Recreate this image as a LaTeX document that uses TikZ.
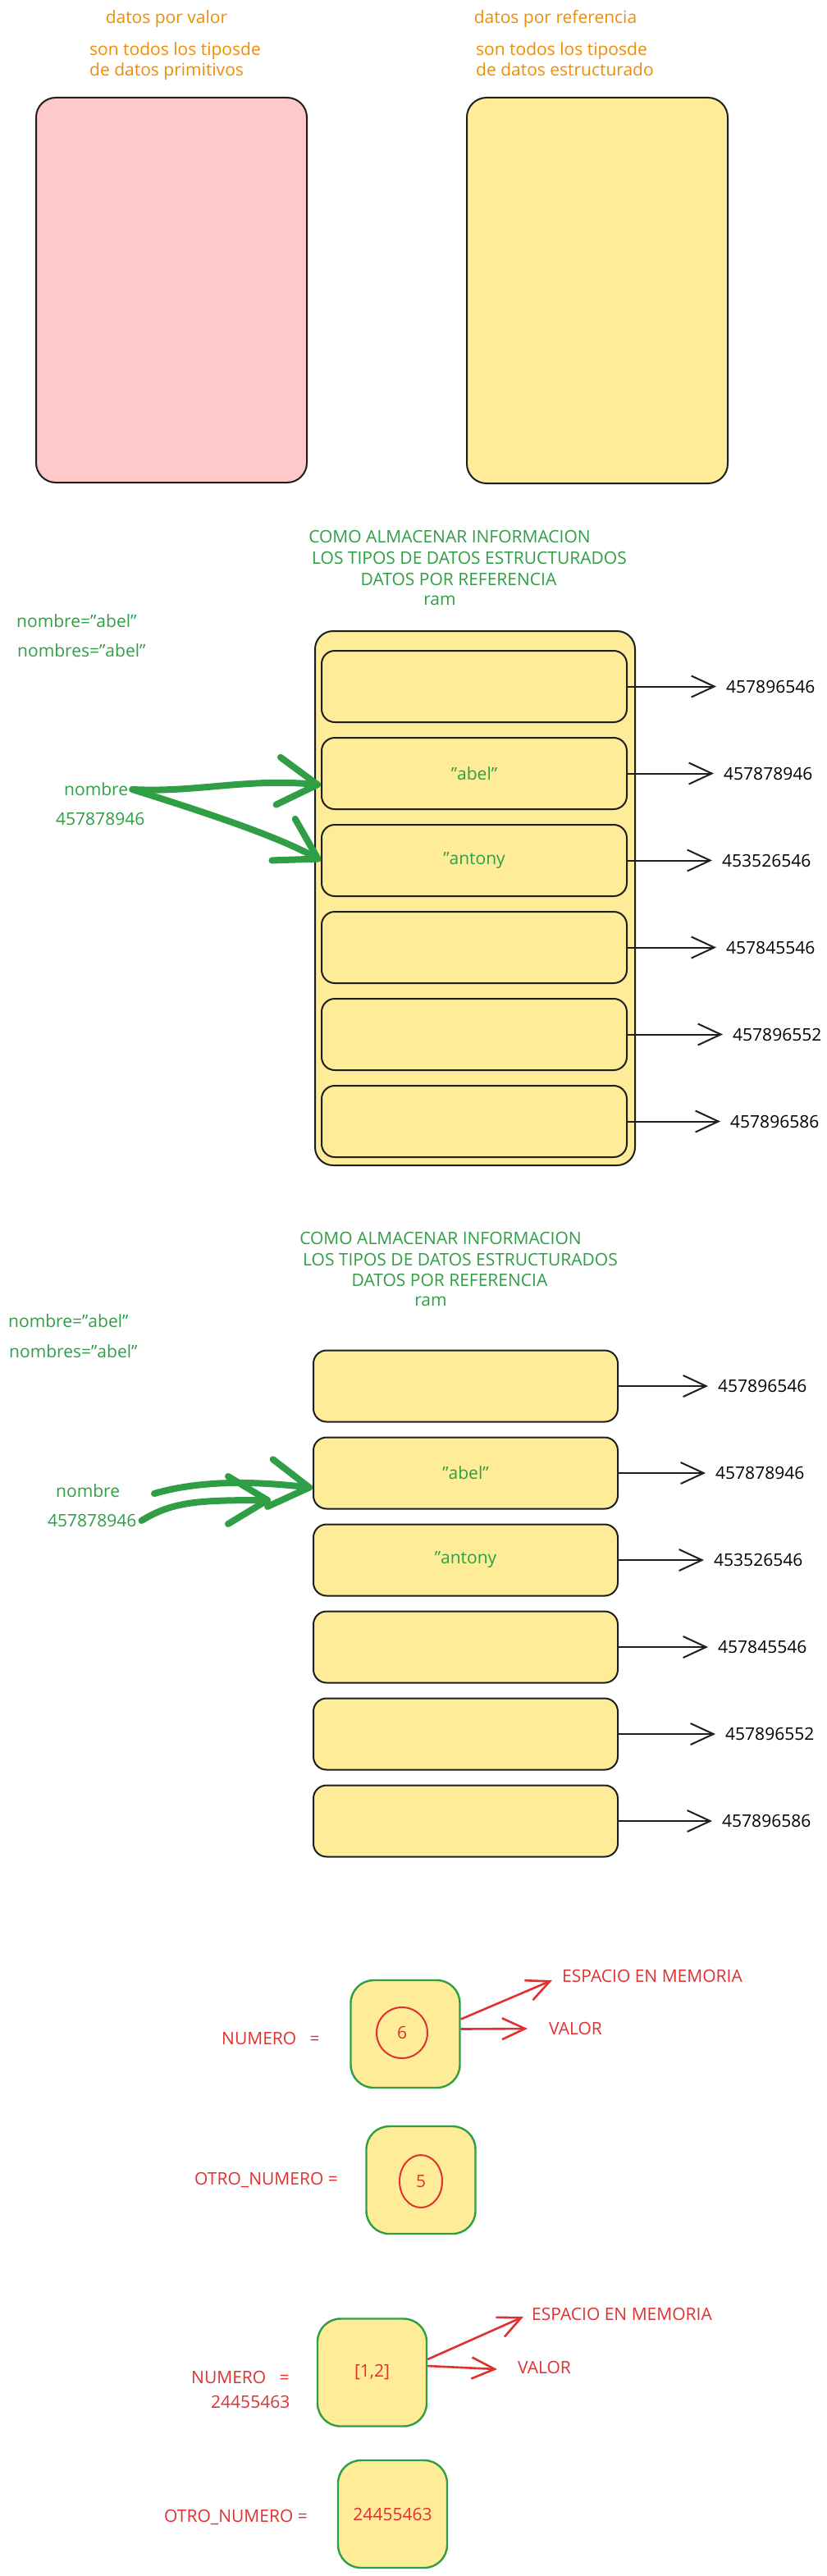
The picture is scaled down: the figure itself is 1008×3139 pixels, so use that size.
\documentclass[tikz,border=0pt]{standalone}
\usepackage{fontspec}
\setmainfont{Open Sans}
\usetikzlibrary{positioning, arrows.meta, shapes.geometric}

\definecolor{naranja}{HTML}{F08C00}
\definecolor{verde}{HTML}{2F9E44}
\definecolor{rojo}{HTML}{E03131}
\definecolor{rosa}{HTML}{FFC9C9}
\definecolor{amarillo}{HTML}{FFEC99}
\definecolor{tinta}{HTML}{1E1E1E}

% comilla recta
\newcommand{\cm}{\symbol{34}}

\begin{document}
\begin{tikzpicture}[x=1pt, y=-1pt,
    >={Straight Barb[length=28pt, width=26pt]},
    texto/.style={inner sep=0pt, font=\fontsize{21}{25}\selectfont},
    fila/.style={draw=tinta, fill=amarillo, line width=2pt, rounded corners=16pt, minimum height=87pt, texto, text=verde},
    celda/.style={draw=verde, fill=amarillo, line width=2.4pt, rounded corners=28pt, minimum width=133pt, minimum height=131pt, texto, text=rojo},
    flecha/.style={draw=tinta, line width=2pt, shorten >=12pt},
    gruesa/.style={draw=verde, line width=8pt, line cap=round, -{Straight Barb[length=48pt, width=58pt, round]}},
    roja/.style={draw=rojo, line width=2.6pt}
]
    \useasboundingbox (0, 0) rectangle (1008, 3139);

    % valor vs referencia
    \node (titvalor) [texto, text=naranja] at (203, 23) {datos por valor};
    \node (descvalor) [texto, text=naranja, align=left, anchor=west] at (109, 75) {son todos los tiposde\\de datos primitivos};
    \node (valor) [draw=tinta, fill=rosa, line width=2pt, rounded corners=24pt, minimum width=330pt, minimum height=469pt] at (209, 353.5) {};
    \node (titref) [texto, text=naranja] at (677, 23) {datos por referencia};
    \node (descref) [texto, text=naranja, align=left, anchor=west] at (580, 72) {son todos los tiposde\\de datos estructurado};
    \node (referencia) [draw=tinta, fill=amarillo, line width=2pt, rounded corners=24pt, minimum width=318pt, minimum height=470pt] at (728, 354) {};

    % ram con marco
    \node (tit1a) [texto, text=verde] at (548, 654) {COMO ALMACENAR INFORMACION};
    \node (tit1b) [texto, text=verde] at (572, 680) {LOS TIPOS DE DATOS ESTRUCTURADOS};
    \node (tit1c) [texto, text=verde] at (559, 706) {DATOS POR REFERENCIA};
    \node (ram1) [texto, text=verde] at (536, 732) {ram};
    \node (var1a) [texto, text=verde, anchor=west] at (20, 757) {nombre=\cm abel\cm};
    \node (var1b) [texto, text=verde, anchor=west] at (21, 793) {nombres=\cm abel\cm};
    \node (marco) [draw=tinta, fill=amarillo, line width=2pt, rounded corners=22pt, minimum width=390pt, minimum height=651pt] at (579, 1094.5) {};
    \node (r1) [fila, minimum width=372pt] at (578, 836.5) {};
    \node (r2) [fila, minimum width=372pt, below=17pt of r1] {\cm abel\cm};
    \node (r3) [fila, minimum width=372pt, below=17pt of r2] {\cm antony};
    \node (r4) [fila, minimum width=372pt, below=17pt of r3] {};
    \node (r5) [fila, minimum width=372pt, below=17pt of r4] {};
    \node (r6) [fila, minimum width=372pt, below=17pt of r5] {};
    \node (n1) [texto, right=120pt of r1] {457896546};
    \node (n2) [texto, right=117pt of r2] {457878946};
    \node (n3) [texto, right=115pt of r3] {453526546};
    \node (n4) [texto, right=120pt of r4] {457845546};
    \node (n5) [texto, right=128pt of r5] {457896552};
    \node (n6) [texto, right=125pt of r6] {457896586};
    \node (nombre1) [texto, text=verde, anchor=west] at (78, 962) {nombre};
    \node (dir1) [texto, text=verde, anchor=west] at (68, 998) {457878946};

    \draw [->, flecha] (r1.east) -- (n1.west);
    \draw [->, flecha] (r2.east) -- (n2.west);
    \draw [->, flecha] (r3.east) -- (n3.west);
    \draw [->, flecha] (r4.east) -- (n4.west);
    \draw [->, flecha] (r5.east) -- (n5.west);
    \draw [->, flecha] (r6.east) -- (n6.west);
    \draw [gruesa] ([xshift=5pt]nombre1.east) .. controls (240, 966) and (300, 948) .. ([yshift=-14pt]r2.west);
    \draw [gruesa] ([xshift=5pt]nombre1.east) .. controls (260, 993) and (340, 1020) .. (r3.west);

    % ram sin marco
    \node (tit2a) [texto, text=verde] at (537, 1509) {COMO ALMACENAR INFORMACION};
    \node (tit2b) [texto, text=verde] at (561, 1535) {LOS TIPOS DE DATOS ESTRUCTURADOS};
    \node (tit2c) [texto, text=verde] at (548, 1560) {DATOS POR REFERENCIA};
    \node (ram2) [texto, text=verde] at (525, 1586) {ram};
    \node (var2a) [texto, text=verde, anchor=west] at (10, 1610) {nombre=\cm abel\cm};
    \node (var2b) [texto, text=verde, anchor=west] at (11, 1647) {nombres=\cm abel\cm};
    \node (f1) [fila, minimum width=371pt] at (567.5, 1689) {};
    \node (f2) [fila, minimum width=371pt, below=17pt of f1] {\cm abel\cm};
    \node (f3) [fila, minimum width=371pt, below=17pt of f2] {\cm antony};
    \node (f4) [fila, minimum width=371pt, below=17pt of f3] {};
    \node (f5) [fila, minimum width=371pt, below=17pt of f4] {};
    \node (f6) [fila, minimum width=371pt, below=17pt of f5] {};
    \node (m1) [texto, right=121pt of f1] {457896546};
    \node (m2) [texto, right=118pt of f2] {457878946};
    \node (m3) [texto, right=116pt of f3] {453526546};
    \node (m4) [texto, right=121pt of f4] {457845546};
    \node (m5) [texto, right=130pt of f5] {457896552};
    \node (m6) [texto, right=126pt of f6] {457896586};
    \node (nombre2) [texto, text=verde, anchor=west] at (68, 1817) {nombre};
    \node (dir2) [texto, text=verde, anchor=west] at (58, 1853) {457878946};
    \coordinate (ini2) at (188, 1820);
    \coordinate (fin2) at (330, 1828);

    \draw [->, flecha] (f1.east) -- (m1.west);
    \draw [->, flecha] (f2.east) -- (m2.west);
    \draw [->, flecha] (f3.east) -- (m3.west);
    \draw [->, flecha] (f4.east) -- (m4.west);
    \draw [->, flecha] (f5.east) -- (m5.west);
    \draw [->, flecha] (f6.east) -- (m6.west);
    \draw [gruesa] (ini2) .. controls (250, 1802) and (320, 1806) .. ([yshift=-18pt]f2.west);
    \draw [gruesa] ([xshift=6pt]dir2.east) .. controls (210, 1830) and (240, 1828) .. (fin2);

    % valor primitivo
    \node (num1) [texto, text=rojo, anchor=west] at (270, 2484) {NUMERO \ \ =};
    \node (caja1) [celda] at (494, 2478.5) {};
    \node (seis) [circle, draw=rojo, line width=2pt, minimum size=62pt, texto, text=rojo] at (490, 2477) {6};
    \node (esp1) [texto, text=rojo, anchor=west] at (685, 2408) {ESPACIO EN MEMORIA};
    \node (val1) [texto, text=rojo, anchor=west] at (669, 2472) {VALOR};
    \node (otro1) [texto, text=rojo, anchor=west] at (237, 2656) {OTRO\_NUMERO =};
    \node (caja2) [celda] at (513, 2656.5) {};
    \node (cinco) [ellipse, draw=rojo, line width=2pt, minimum width=52pt, minimum height=64pt, texto, text=rojo] at (513, 2658) {5};

    \draw [->, roja] ([yshift=18pt]caja1.east) -- ([xshift=-12pt, yshift=-5pt]esp1.west);
    \draw [->, roja] ([yshift=6pt]caja1.east) -- ([xshift=-26pt]val1.west);

    % valor estructurado
    \node (num2) [texto, text=rojo, anchor=west] at (233, 2897) {NUMERO \ \ =};
    \node (dir3) [texto, text=rojo, anchor=west] at (257, 2927) {24455463};
    \node (caja3) [celda] at (453.5, 2891) {[1,2]};
    \node (esp2) [texto, text=rojo, anchor=west] at (648, 2820) {ESPACIO EN MEMORIA};
    \node (val2) [texto, text=rojo, anchor=west] at (631, 2885) {VALOR};
    \node (otro2) [texto, text=rojo, anchor=west] at (200, 3067) {OTRO\_NUMERO =};
    \node (caja4) [celda] at (478.5, 3063.5) {24455463};

    \draw [->, roja] ([yshift=16pt]caja3.east) -- ([xshift=-10pt, yshift=-3pt]esp2.west);
    \draw [->, roja] ([yshift=8pt]caja3.east) -- ([xshift=-25pt, yshift=-2pt]val2.west);
\end{tikzpicture}
\end{document}
